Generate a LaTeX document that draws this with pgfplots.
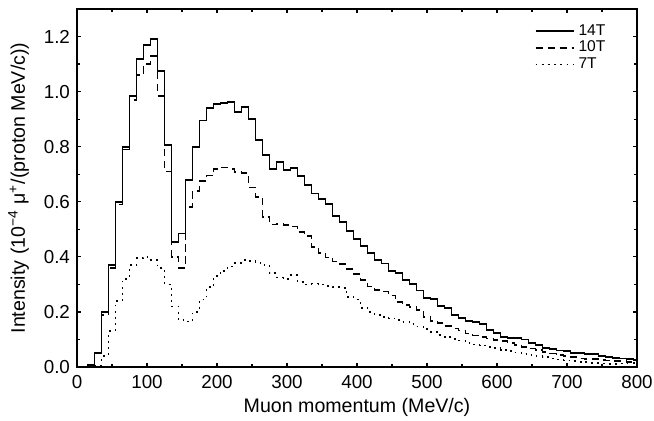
\documentclass[border=0pt]{standalone}
\usepackage{pgfplots}
\pgfplotsset{compat=1.18}
\usepackage{fontspec}
\setmainfont{Liberation Sans}

\begin{document}
\begin{tikzpicture}
\begin{axis}[
  scale only axis, width=280pt, height=179pt,
  xmin=0, xmax=800, ymin=0, ymax=1.3,
  xtick={0,100,200,300,400,500,600,700,800}, minor x tick num=1,
  ytick={0,0.2,0.4,0.6,0.8,1.0,1.2}, minor y tick num=1,
  tick align=inside, major tick length=2.2pt, minor tick length=1.4pt,
  tick style={line width=0.6pt, black},
  axis line style={line width=0.7pt},
  tick label style={font=\fontsize{9.4}{11}\selectfont},
  label style={font=\fontsize{9.8}{11.5}\selectfont},
  xticklabel style={yshift=-0.8pt},
  /pgf/number format/assume math mode=true,
  yticklabel style={/pgf/number format/fixed, /pgf/number format/fixed zerofill, /pgf/number format/precision=1},
  xlabel={Muon momentum (MeV/c)},
  xlabel style={at={(axis description cs:0.5,0)}, anchor=base, yshift=-22.8pt},
  ylabel={Intensity (10\textsuperscript{−4} μ\textsuperscript{+}/(proton MeV/c))},
  ylabel style={at={(axis description cs:-0.0929,0.5)}, anchor=base},
  legend style={draw=none, fill=none, at={(0.955,0.975)}, anchor=north east,
    font=\fontsize{7.8}{8}\selectfont, row sep=-2.6pt, inner sep=1pt},
  legend cell align=left,
  legend image code/.code={\draw[#1] (0pt,0pt) -- (19pt,0pt);},
]
\addplot[const plot, black, line width=0.95pt] coordinates {
(0,0)(15,0.006)(25,0.05)(35,0.20)(45,0.37)(55,0.60)(65,0.80)(75,0.985)(85,1.12)(95,1.17)
(105,1.19)(115,1.075)(125,0.805)(135,0.455)(145,0.485)(155,0.68)(165,0.80)(175,0.895)(185,0.94)(195,0.954)
(205,0.958)(215,0.963)(225,0.925)(235,0.945)(245,0.90)(255,0.824)(265,0.771)(275,0.719)(285,0.743)(295,0.715)
(305,0.724)(315,0.693)(325,0.662)(335,0.63)(345,0.611)(355,0.591)(365,0.549)(375,0.525)(385,0.495)(395,0.465)
(405,0.439)(415,0.414)(425,0.39)(435,0.376)(445,0.35)(455,0.34)(465,0.316)(475,0.30)(485,0.278)(495,0.252)
(505,0.247)(515,0.222)(525,0.214)(535,0.19)(545,0.178)(555,0.166)(565,0.162)(575,0.157)(585,0.134)(595,0.124)
(605,0.108)(615,0.107)(625,0.104)(635,0.10)(645,0.086)(655,0.079)(665,0.068)(675,0.067)(685,0.06)(695,0.057)
(705,0.052)(715,0.05)(725,0.048)(735,0.046)(745,0.039)(755,0.035)(765,0.033)(775,0.031)(785,0.028)(795,0.027)(800,0.027)
};
\addlegendentry{14T}
\addplot[const plot, black, line width=0.85pt, dash pattern=on 3.6pt off 2.4pt] coordinates {
(0,0)(15,0.005)(25,0.05)(35,0.19)(45,0.36)(55,0.59)(65,0.79)(75,0.97)(85,1.06)(95,1.10)
(105,1.13)(115,0.985)(125,0.71)(135,0.40)(145,0.36)(155,0.58)(165,0.64)(175,0.675)(185,0.695)(195,0.72)
(205,0.725)(215,0.72)(225,0.708)(235,0.705)(245,0.652)(255,0.618)(265,0.545)(275,0.517)(285,0.52)(295,0.515)
(305,0.51)(315,0.49)(325,0.475)(335,0.435)(345,0.415)(355,0.398)(365,0.383)(375,0.374)(385,0.355)(395,0.338)
(405,0.317)(415,0.292)(425,0.28)(435,0.274)(445,0.26)(455,0.236)(465,0.226)(475,0.218)(485,0.208)(495,0.182)
(505,0.168)(515,0.16)(525,0.148)(535,0.14)(545,0.133)(555,0.122)(565,0.115)(575,0.11)(585,0.104)(595,0.099)
(605,0.094)(615,0.086)(625,0.079)(635,0.073)(645,0.067)(655,0.061)(665,0.055)(675,0.049)(685,0.044)(695,0.04)
(705,0.036)(715,0.031)(725,0.029)(735,0.028)(745,0.025)(755,0.024)(765,0.022)(775,0.021)(785,0.019)(795,0.018)(800,0.018)
};
\addlegendentry{10T}
\addplot[const plot, black, line width=0.9pt, dash pattern=on 0.9pt off 2.2pt] coordinates {
(0,0)(25,0.005)(35,0.04)(45,0.13)(55,0.24)(65,0.32)(75,0.37)(85,0.395)(95,0.40)
(105,0.39)(115,0.36)(125,0.30)(135,0.22)(145,0.17)(155,0.165)(165,0.20)(175,0.245)(185,0.29)(195,0.33)
(205,0.35)(215,0.365)(225,0.378)(235,0.388)(245,0.385)(255,0.378)(265,0.37)(275,0.34)(285,0.325)(295,0.32)
(305,0.333)(315,0.31)(325,0.30)(335,0.303)(345,0.30)(355,0.295)(365,0.29)(375,0.288)(385,0.255)(395,0.245)
(405,0.215)(415,0.20)(425,0.19)(435,0.183)(445,0.176)(455,0.17)(465,0.164)(475,0.155)(485,0.147)(495,0.137)
(505,0.127)(515,0.115)(525,0.108)(535,0.102)(545,0.096)(555,0.088)(565,0.082)(575,0.078)(585,0.073)(595,0.068)
(605,0.063)(615,0.058)(625,0.053)(635,0.048)(645,0.043)(655,0.039)(665,0.035)(675,0.031)(685,0.027)(695,0.024)
(705,0.021)(715,0.019)(725,0.017)(735,0.015)(745,0.013)(755,0.012)(765,0.012)(775,0.013)(785,0.015)(795,0.015)(800,0.015)
};
\addlegendentry{7T}
\end{axis}
\pgfresetboundingbox
\path ([xshift=-38.5pt,yshift=-26.5pt]current axis.south west) rectangle ([xshift=8.5pt,yshift=4.5pt]current axis.north east);
\end{tikzpicture}
\end{document}
